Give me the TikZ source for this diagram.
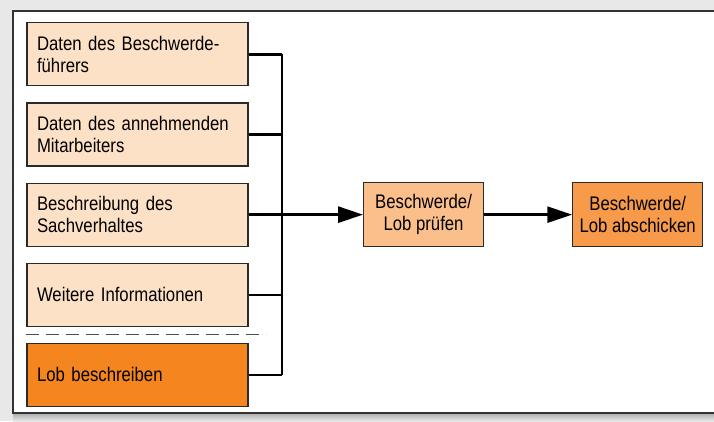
\documentclass[tikz,border=0pt]{standalone}
\usepackage{fontspec}
\setmainfont{Liberation Sans}[FakeStretch=0.85]
\usetikzlibrary{arrows.meta, positioning, calc}
\definecolor{peach}{HTML}{FDE1C6}
\definecolor{apricot}{HTML}{FABF8B}
\definecolor{tangerine}{HTML}{F79A49}
\definecolor{lobor}{HTML}{F5851F}
\definecolor{edge}{HTML}{2A2A2A}
\tikzset{
  inbox/.style  ={draw=edge, line width=0.8pt, align=left, fill=peach,
                  minimum height=1.575cm, minimum width=5.525cm,
                  text width=5.025cm, inner xsep=0.25cm,
                  font=\fontsize{14}{15.8}\selectfont},
  stepbox/.style={draw=edge, line width=0.8pt, align=center,
                  minimum height=1.6cm, inner sep=2pt,
                  font=\fontsize{14}{15.8}\selectfont},
  arr/.style    ={-{Triangle[length=0.62cm, width=0.4cm]}, line width=1.8pt},
  bus/.style    ={line width=1.8pt},
}

\begin{document}
\begin{tikzpicture}
  % background and frame
  \useasboundingbox (0,0) rectangle (17.85,10.525);
  \fill[gray!18] (0,0) rectangle (17.85,10.525);
  \shade[top color=gray!70, bottom color=gray!18] (0.325,0) rectangle (17.85,0.22);
  \draw[draw=gray!40!black, fill=white, line width=1.3pt] (0.325,0.2) rectangle (18.2,10.25);

  % inputs
  \node[inbox] at (3.4375,9.165)    (b1) {Daten des Beschwerde-\\führers};
  \node[inbox, below=0.4cm of b1]   (b2) {Daten des annehmenden\\Mitarbeiters};
  \node[inbox, below=0.4cm of b2]   (b3) {Beschreibung des\\Sachverhaltes};
  \node[inbox, below=0.4cm of b3]   (b4) {Weitere Informationen};
  \node[inbox, fill=lobor, below=0.4cm of b4] (b5) {Lob beschreiben};

  % separator
  \coordinate (s1) at ($(b4.south west)!0.5!(b5.north west)$);
  \coordinate (s2) at ($(s1)+(6.0,0)$);
  \draw[gray!60!black, line width=0.9pt, dash pattern=on 0.32cm off 0.18cm] (s1) -- (s2);

  % bus
  \coordinate (bus) at (7.05,0);
  \coordinate (j1) at (b1.east -| bus);
  \coordinate (j3) at (b3.east -| bus);
  \coordinate (j5) at (b5.east -| bus);
  \draw[bus] (j1) -- (j5);
  \foreach \b in {b1,b2,b3,b4,b5}
    \draw[bus] (\b.east) -- (\b.east -| bus);

  % steps
  \node[stepbox, fill=apricot, minimum width=3cm, right=2.025cm of j3] (pruefen)
    {Beschwerde/\\Lob prüfen};
  \node[stepbox, fill=tangerine, minimum width=3.25cm, right=2.2cm of pruefen] (senden)
    {Beschwerde/\\Lob abschicken};
  \draw[arr] (j3) -- (pruefen);
  \draw[arr] (pruefen) -- (senden);
\end{tikzpicture}
\end{document}
